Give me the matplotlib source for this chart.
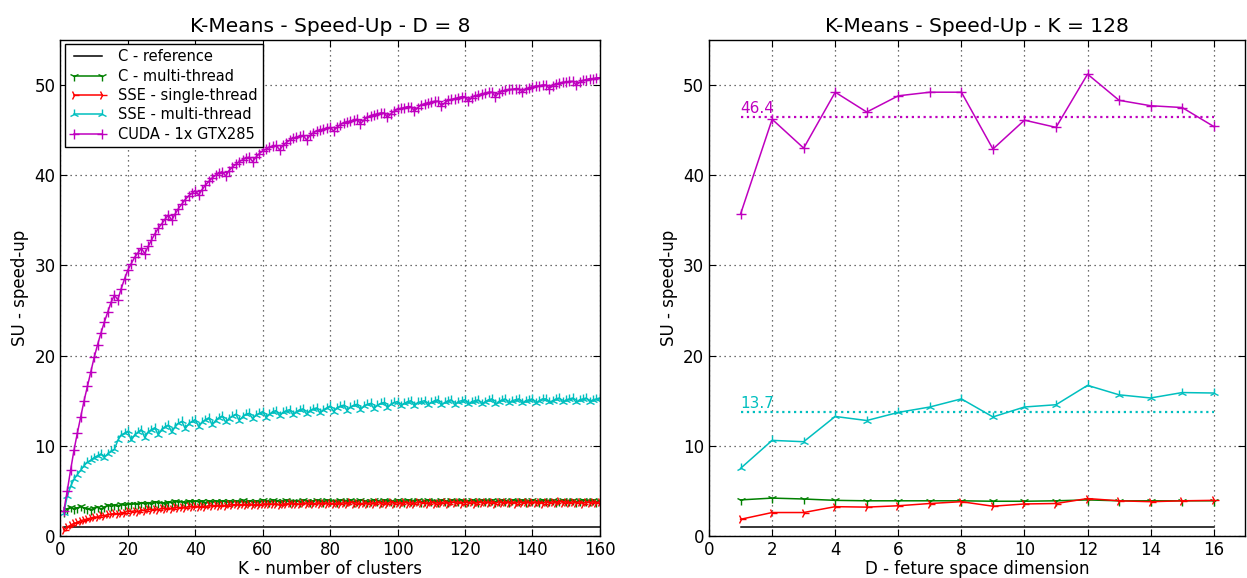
import matplotlib
matplotlib.use("Agg")
import matplotlib.pyplot as plt

# ---- left panel: speed-up vs number of clusters K (D = 8) ----
k_values = list(range(1, 161))

c_reference = [1.0] * 160

c_multi = [
    2.7, 3.0, 3.2, 3.0, 3.1, 3.3, 3.1, 3.0, 2.9, 3.1,
    3.2, 3.0, 3.2, 3.4, 3.3, 3.4, 3.3, 3.5, 3.4, 3.6,
    3.5, 3.6, 3.5, 3.7, 3.6, 3.7, 3.6, 3.8, 3.7, 3.7,
    3.6, 3.8, 3.7, 3.9, 3.8, 3.8, 3.7, 3.9, 3.8, 3.9,
    3.8, 3.9, 3.7, 3.9, 3.8, 3.9, 3.8, 3.9, 3.8, 3.9,
    3.8, 3.9, 3.8, 4.0, 3.8, 3.9, 3.8, 3.9, 3.8, 4.0,
    3.9, 3.8, 4.0, 3.9, 3.8, 3.9, 4.0, 3.8, 3.9, 3.9,
    3.8, 4.0, 3.9, 3.8, 3.9, 4.0, 3.9, 3.8, 4.0, 3.9,
    3.9, 3.8, 4.0, 3.9, 3.9, 4.0, 3.8, 3.9, 4.0, 3.9,
    3.8, 3.9, 4.0, 3.9, 3.8, 4.0, 3.9, 3.9, 3.8, 4.0,
    3.9, 3.8, 4.0, 3.9, 3.9, 4.0, 3.8, 3.9, 4.0, 3.9,
    3.9, 3.8, 4.0, 3.9, 3.8, 4.0, 3.9, 3.9, 4.0, 3.8,
    3.9, 4.0, 3.9, 3.8, 4.0, 3.9, 3.9, 4.0, 3.8, 3.9,
    4.0, 3.9, 3.8, 4.0, 3.9, 3.9, 4.0, 3.8, 3.9, 4.0,
    3.9, 3.8, 4.0, 3.9, 3.9, 4.0, 3.8, 3.9, 4.0, 3.9,
    3.9, 4.0, 3.8, 3.9, 4.0, 3.9, 3.9, 4.0, 3.8, 3.9,
]

sse_single = [
    0.7, 1.0, 1.2, 1.4, 1.5, 1.7, 1.8, 1.9, 2.0, 2.1,
    2.1, 2.3, 2.2, 2.4, 2.4, 2.5, 2.4, 2.6, 2.6, 2.8,
    2.7, 2.8, 2.7, 2.9, 2.8, 3.0, 2.9, 3.0, 2.9, 3.1,
    3.0, 3.1, 3.0, 3.2, 3.1, 3.2, 3.1, 3.3, 3.2, 3.3,
    3.2, 3.3, 3.2, 3.4, 3.3, 3.4, 3.3, 3.4, 3.3, 3.5,
    3.4, 3.5, 3.4, 3.5, 3.4, 3.6, 3.4, 3.5, 3.4, 3.6,
    3.5, 3.6, 3.5, 3.6, 3.4, 3.6, 3.5, 3.7, 3.5, 3.6,
    3.5, 3.7, 3.6, 3.7, 3.5, 3.7, 3.6, 3.7, 3.6, 3.7,
    3.5, 3.7, 3.6, 3.7, 3.6, 3.8, 3.6, 3.7, 3.5, 3.7,
    3.6, 3.7, 3.6, 3.8, 3.6, 3.7, 3.6, 3.8, 3.6, 3.7,
    3.6, 3.8, 3.6, 3.7, 3.6, 3.8, 3.7, 3.7, 3.6, 3.8,
    3.6, 3.7, 3.7, 3.8, 3.6, 3.8, 3.7, 3.8, 3.6, 3.8,
    3.7, 3.8, 3.6, 3.8, 3.7, 3.8, 3.7, 3.8, 3.6, 3.8,
    3.7, 3.8, 3.7, 3.8, 3.6, 3.8, 3.7, 3.8, 3.7, 3.8,
    3.7, 3.8, 3.6, 3.8, 3.7, 3.8, 3.7, 3.9, 3.7, 3.8,
    3.7, 3.8, 3.7, 3.8, 3.6, 3.8, 3.7, 3.8, 3.7, 3.8,
]

sse_multi = [
    2.6, 4.4, 5.5, 6.3, 6.8, 7.3, 7.8, 8.2, 8.4, 8.7,
    8.9, 9.1, 8.7, 9.1, 9.4, 9.6, 10.6, 11.2, 11.4, 11.6,
    10.6, 11.2, 11.5, 11.8, 10.9, 11.5, 11.8, 12.0, 11.2, 11.8,
    12.1, 12.3, 11.5, 12.1, 12.5, 12.7, 11.9, 12.4, 12.7, 12.9,
    12.1, 12.6, 12.9, 13.1, 12.3, 12.8, 13.1, 13.3, 12.6, 13.0,
    13.3, 13.5, 12.8, 13.2, 13.5, 13.6, 13.0, 13.4, 13.6, 13.8,
    13.1, 13.5, 13.8, 13.9, 13.3, 13.7, 13.9, 14.0, 13.4, 13.8,
    14.0, 14.1, 13.5, 13.9, 14.1, 14.2, 13.6, 14.0, 14.2, 14.4,
    13.8, 14.2, 14.4, 14.5, 13.9, 14.3, 14.5, 14.6, 14.0, 14.4,
    14.6, 14.7, 14.1, 14.5, 14.7, 14.8, 14.2, 14.6, 14.8, 14.9,
    14.4, 14.7, 14.9, 15.0, 14.4, 14.8, 14.9, 15.0, 14.5, 14.8,
    15.0, 15.1, 14.5, 14.8, 15.0, 15.1, 14.5, 14.9, 15.0, 15.1,
    14.6, 14.9, 15.0, 15.1, 14.6, 14.9, 15.1, 15.2, 14.6, 14.9,
    15.1, 15.2, 14.7, 15.0, 15.1, 15.2, 14.7, 15.0, 15.1, 15.2,
    14.7, 15.0, 15.2, 15.2, 14.8, 15.0, 15.2, 15.3, 14.8, 15.1,
    15.2, 15.3, 14.8, 15.1, 15.2, 15.3, 14.9, 15.1, 15.2, 15.3,
]

cuda_gtx285 = [
    2.8, 5.0, 7.3, 9.5, 11.4, 13.2, 15.0, 16.6, 18.2, 19.8,
    21.2, 22.5, 23.7, 24.8, 25.9, 26.7, 26.2, 27.4, 28.5, 29.5,
    30.2, 30.9, 31.4, 31.9, 31.3, 32.1, 32.8, 33.5, 34.1, 34.6,
    35.1, 35.6, 35.0, 35.7, 36.3, 36.8, 37.3, 37.7, 38.0, 38.3,
    37.8, 38.4, 38.9, 39.3, 39.7, 40.0, 40.2, 40.4, 39.9, 40.5,
    40.9, 41.2, 41.5, 41.7, 41.9, 42.0, 41.5, 42.0, 42.4, 42.7,
    42.9, 43.1, 43.2, 43.3, 42.8, 43.3, 43.6, 43.9, 44.1, 44.2,
    44.3, 44.4, 43.9, 44.4, 44.7, 44.9, 45.0, 45.1, 45.2, 45.3,
    44.9, 45.3, 45.6, 45.8, 45.9, 46.0, 46.1, 46.2, 45.7, 46.1,
    46.4, 46.6, 46.7, 46.8, 46.9, 46.9, 46.4, 46.8, 47.1, 47.3,
    47.4, 47.5, 47.6, 47.6, 47.1, 47.5, 47.8, 47.9, 48.0, 48.1,
    48.2, 48.2, 47.7, 48.0, 48.3, 48.4, 48.5, 48.6, 48.7, 48.7,
    48.2, 48.6, 48.8, 48.9, 49.0, 49.1, 49.2, 49.2, 48.7, 49.1,
    49.3, 49.4, 49.5, 49.5, 49.6, 49.6, 49.2, 49.5, 49.7, 49.8,
    49.9, 49.9, 50.0, 50.0, 49.6, 49.9, 50.1, 50.2, 50.3, 50.3,
    50.4, 50.4, 50.0, 50.3, 50.5, 50.6, 50.7, 50.7, 50.8, 50.8,
]

# ---- right panel: speed-up vs feature space dimension D (K = 128) ----
d_values = list(range(1, 17))
d_reference = [1.0] * 16
d_c_multi = [4.0, 4.2, 4.1, 3.95, 3.9, 3.9, 3.9, 3.9, 3.85, 3.85, 3.9, 4.0, 3.9, 3.9, 3.9, 3.9]
d_sse_single = [1.85, 2.6, 2.6, 3.25, 3.2, 3.35, 3.6, 3.8, 3.3, 3.55, 3.6, 4.15, 3.9, 3.8, 3.9, 3.95]
d_sse_multi = [7.5, 10.6, 10.45, 13.25, 12.8, 13.7, 14.3, 15.2, 13.2, 14.3, 14.55, 16.7, 15.65, 15.3, 15.9, 15.85]
d_cuda = [35.7, 46.2, 43.0, 49.2, 47.0, 48.8, 49.2, 49.2, 42.9, 46.1, 45.3, 51.2, 48.3, 47.7, 47.5, 45.4]

labels = ["C - reference", "C - multi-thread", "SSE - single-thread",
          "SSE - multi-thread", "CUDA - 1x GTX285"]
colors = ["k", "g", "r", "c", "m"]
markers = [None, "1", "4", "2", "+"]


def style_axes(ax, xlabel, title):
    ax.set_title(title, fontsize=14.5)
    ax.set_xlabel(xlabel, fontsize=12, labelpad=1)
    ax.set_ylabel("SU - speed-up", fontsize=12)
    ax.set_ylim(0, 55)
    ax.set_yticks([0, 10, 20, 30, 40, 50])
    ax.grid(True, linestyle=(0, (1, 3)), color="0.25", linewidth=0.9)
    ax.tick_params(direction="in", top=True, right=True, labelsize=12, length=5)
    for spine in ax.spines.values():
        spine.set_linewidth(1.0)


def plot_series(ax, x, series_list, ms):
    for ys, lab, col, mk in zip(series_list, labels, colors, markers):
        ax.plot(x, ys, color=col, marker=mk, markersize=ms, markeredgewidth=1.0,
                linewidth=1.1, label=lab)


fig = plt.figure(figsize=(12.47, 5.78), dpi=100)
ax1 = fig.add_axes([0.0485, 0.0727, 0.4325, 0.8583])
ax2 = fig.add_axes([0.5686, 0.0727, 0.4300, 0.8583])

plot_series(ax1, k_values, [c_reference, c_multi, sse_single, sse_multi, cuda_gtx285], 7)
ax1.set_xlim(0, 160)
ax1.set_xticks(range(0, 161, 20))
style_axes(ax1, "K - number of clusters", "K-Means - Speed-Up - D = 8")
leg = ax1.legend(loc="upper left", numpoints=2, fontsize=10.5, fancybox=False,
                 framealpha=1, edgecolor="k", borderaxespad=0.3, handlelength=2.5,
                 labelspacing=0.3, borderpad=0.35)
leg.get_frame().set_linewidth(1.0)

plot_series(ax2, d_values, [d_reference, d_c_multi, d_sse_single, d_sse_multi, d_cuda], 7)
ax2.set_xlim(0, 17)
ax2.set_xticks(range(0, 17, 2))
style_axes(ax2, "D - feture space dimension", "K-Means - Speed-Up - K = 128")

# mean lines for the GPU and SSE multi-thread series
for ys, col in [(d_cuda, "m"), (d_sse_multi, "c")]:
    mean_val = sum(ys) / len(ys)
    ax2.plot([d_values[0], d_values[-1]], [mean_val, mean_val], color=col,
             linestyle=":", linewidth=1.6)
    ax2.text(d_values[0], mean_val + 0.5, "%.1f" % mean_val, color=col, fontsize=11)

fig.savefig("out.png", dpi=100)
